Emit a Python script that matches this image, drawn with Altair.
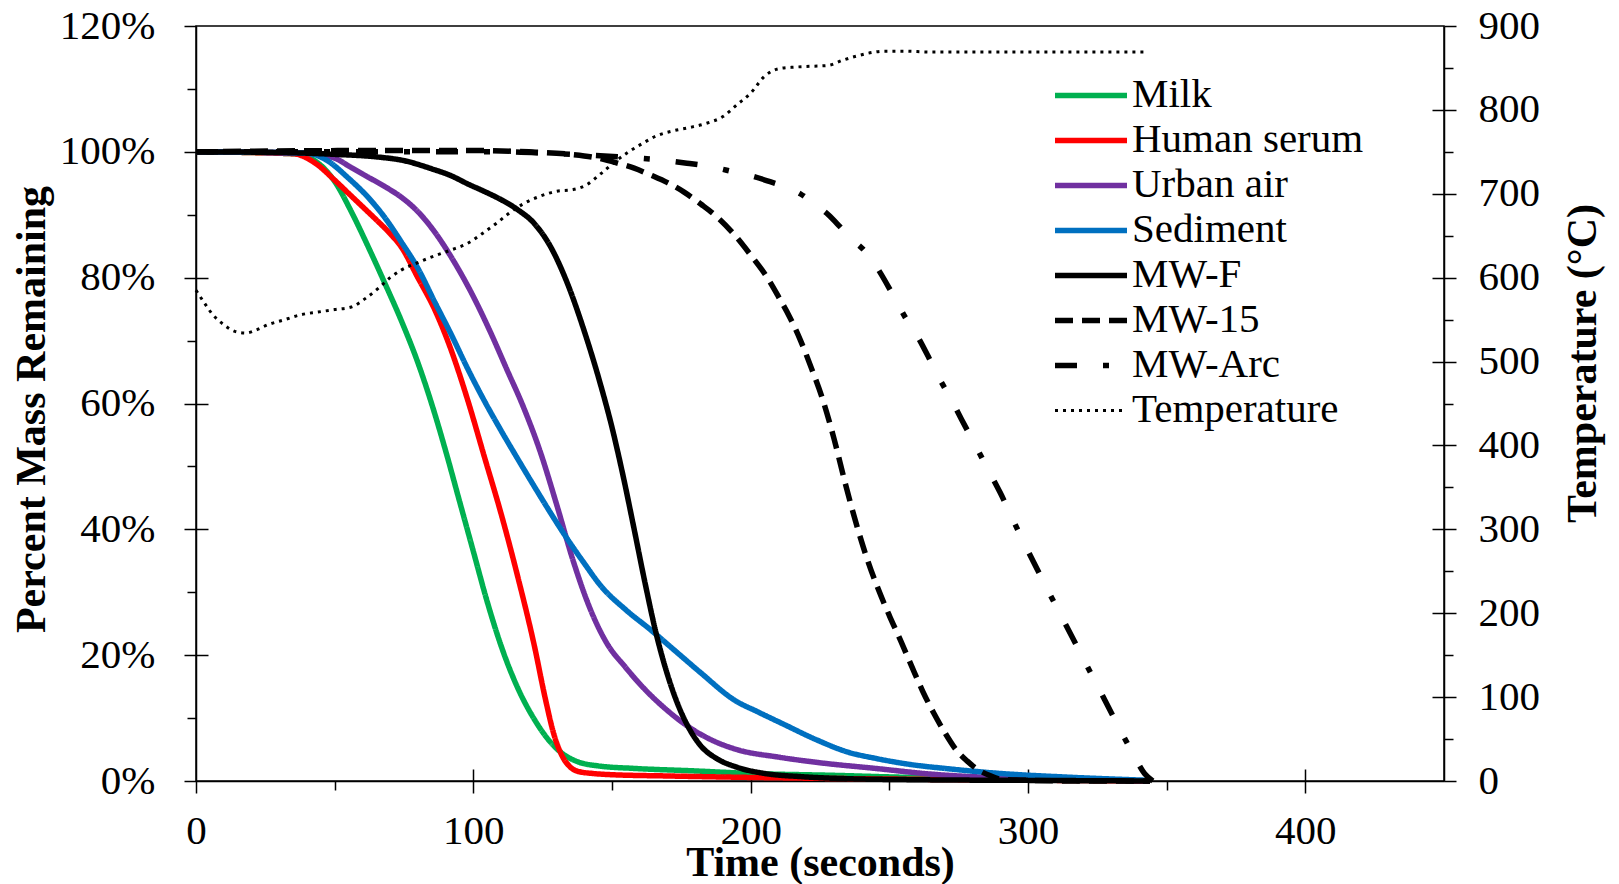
import altair as alt
import pandas as pd

SERIES = ["Milk", "Human serum", "Urban air", "Sediment", "MW-F", "MW-15", "MW-Arc", "Temperature"]
COLORS = ["#00B050", "#FF0000", "#7030A0", "#0070C0", "#000000", "#000000", "#000000", "#000000"]
DASHES = [[1, 0], [1, 0], [1, 0], [1, 0], [1, 0], [18, 9], [22, 26, 6, 26], [3, 5]]
WIDTHS = [5.5, 5.5, 5.5, 5.5, 5.5, 5.5, 5.5, 3]

milk_t = [0, 35, 42, 50, 56, 62, 68, 74, 80, 86, 90, 95, 100, 105, 110, 116, 122, 127, 132, 138, 145, 158, 180, 200, 230, 255, 290, 320, 344]
milk_p = [100, 99.7, 98.8, 95.3, 90.5, 85, 79.2, 73.2, 66.5, 58.5, 52.5, 44.5, 36.5, 28.5, 21.5, 14.8, 9.8, 6.6, 4.4, 3.0, 2.4, 2.0, 1.6, 1.2, 0.9, 0.6, 0.4, 0.2, 0.0]

serum_t = [0, 35, 43, 50, 55, 60, 65, 70, 74, 80, 86, 92, 98, 104, 110, 116, 122, 126, 129, 132, 135, 138, 143, 150, 170, 195, 230, 280, 344]
serum_p = [100, 99.7, 98.2, 95.5, 93.4, 91.3, 89.2, 87, 84.9, 80, 75, 68.5, 60.5, 51.5, 42.5, 32.5, 21.5, 13, 7.5, 4.0, 2.2, 1.5, 1.2, 1.0, 0.8, 0.6, 0.4, 0.2, 0.0]

urban_t = [0, 38, 45, 50, 56, 62, 68, 74, 80, 86, 92, 100, 106, 112, 118, 124, 130, 136, 142, 148, 155, 162, 170, 178, 186, 195, 210, 225, 245, 265, 290, 320, 344]
urban_p = [100, 99.8, 99.5, 99, 97.5, 96, 94.5, 92.8, 90.5, 87.3, 83.3, 77.0, 71.5, 65.5, 59.5, 52.5, 44, 35, 27.5, 22, 18, 14.5, 11.2, 8.5, 6.5, 5, 3.8, 2.9, 2.0, 1.1, 0.5, 0.2, 0.0]

sed_t = [0, 40, 47, 55, 62, 68, 74, 80, 86, 92, 98, 104, 110, 116, 122, 128, 134, 140, 146, 155, 164, 173, 182, 194, 203, 212, 224, 235, 245, 258, 270, 290, 315, 344]
sed_p = [100, 99.8, 98.7, 95.8, 92.8, 89.6, 85.7, 81.5, 76.2, 71, 65.5, 60.4, 55.7, 51.2, 46.8, 42.5, 38.4, 34.6, 31.0, 27.2, 24, 20.6, 17.2, 12.9, 10.9, 9.0, 6.5, 4.6, 3.6, 2.6, 2.0, 1.2, 0.6, 0.1]

mwf_t = [0, 30, 50, 65, 75, 85, 92, 98, 104, 110, 116, 122, 128, 134, 140, 146, 150, 154, 158, 162, 166, 170, 174, 178, 182, 188, 195, 205, 218, 232, 260, 300, 344]
mwf_p = [100, 99.9, 99.6, 99.2, 98.6, 97.3, 96.2, 94.9, 93.7, 92.4, 90.8, 88.6, 84.8, 79.0, 71.5, 62.8, 56.2, 48.5, 40.0, 31.3, 23.3, 16.9, 11.9, 8.2, 5.6, 3.5, 2.2, 1.2, 0.7, 0.4, 0.2, 0.1, 0.0]

mw15_t = [0, 60, 100, 120, 135, 145, 152, 158, 164, 170, 176, 182, 188, 194, 200, 206, 210, 214, 218, 222, 226, 230, 234, 238, 242, 246, 250, 254, 258, 262, 266, 270, 274, 278, 282, 286, 290, 300, 320, 344]
mw15_p = [100, 100.2, 100.2, 100, 99.6, 99, 98.2, 97.4, 96.3, 95.1, 93.6, 91.7, 89.6, 86.9, 83.6, 80, 77, 73.8, 70, 65.5, 60.6, 54.5, 47.5, 41, 35.3, 30.5, 26.3, 22.4, 18.3, 14.3, 10.8, 7.7, 5.0, 3.2, 1.8, 0.9, 0.3, 0.1, 0.0, 0.0]

arc_t = [0, 110, 130, 152, 165, 177, 186, 194, 200, 206, 212, 218, 223, 228, 232, 236, 241, 246, 251, 256, 260, 264, 268, 272, 276, 280, 285, 290, 296, 302, 308, 314, 320, 326, 332, 338, 342, 345]
arc_p = [100, 100, 99.7, 99.2, 98.8, 98.2, 97.6, 96.8, 96.2, 95.4, 94.5, 93.3, 91.7, 90, 88.2, 86.3, 84.3, 81.3, 77.5, 73.5, 70.8, 67.5, 64.0, 60.9, 57.5, 54.2, 50, 45.8, 40.2, 34.8, 29.6, 24.5, 19.4, 14.3, 9.2, 4.2, 1.2, 0.0]

temp_t = [0, 3, 6, 10, 14, 18, 22, 26, 32, 38, 44, 50, 56, 61, 66, 70, 74, 80, 86, 92, 98, 103, 108, 113, 118, 124, 130, 136, 141, 146, 151, 156, 161, 166, 172, 178, 184, 190, 195, 200, 205, 210, 216, 222, 228, 233, 238, 243, 248, 255, 265, 280, 300, 320, 343]
temp_v = [585, 570, 556, 544, 536, 534, 538, 544, 550, 556, 559, 562, 565, 575, 588, 600, 609, 618, 626, 633, 641, 652, 664, 677, 688, 697, 703, 705, 711, 724, 738, 750, 760, 769, 775, 779, 784, 792, 806, 820, 840, 849, 851, 852, 853, 859, 864, 868, 870, 870, 869, 869, 869, 869, 869]

X_MAJOR = [0, 100, 200, 300, 400]
X_MINOR = [50, 150, 250, 350]
Y_MAJOR = [0, 20, 40, 60, 80, 100, 120]
Y_MINOR = [10, 30, 50, 70, 90, 110]
T_MAJOR = [0, 100, 200, 300, 400, 500, 600, 700, 800, 900]
T_MINOR = [50, 150, 250, 350, 450, 550, 650, 750, 850]

W, H = 1248, 755

rows = []
for name, ts, ps in [("Milk", milk_t, milk_p), ("Human serum", serum_t, serum_p),
                     ("Urban air", urban_t, urban_p), ("Sediment", sed_t, sed_p),
                     ("MW-F", mwf_t, mwf_p), ("MW-15", mw15_t, mw15_p), ("MW-Arc", arc_t, arc_p)]:
    for t, p in zip(ts, ps):
        rows.append({"t": t, "pct": p, "series": name})
mass_df = pd.DataFrame(rows)
temp_df = pd.DataFrame({"t": temp_t, "temp": temp_v, "series": ["Temperature"] * len(temp_t)})

xs = alt.Scale(domain=[0, 450], nice=False, zero=False)
ys = alt.Scale(domain=[0, 120], nice=False)
ts_ = alt.Scale(domain=[0, 900], nice=False)

color = alt.Color("series:N", scale=alt.Scale(domain=SERIES, range=COLORS), title=None)
dash = alt.StrokeDash("series:N", scale=alt.Scale(domain=SERIES, range=DASHES), title=None)
width = alt.StrokeWidth("series:N", scale=alt.Scale(type="ordinal", domain=SERIES, range=WIDTHS), title=None)

x_major = alt.Axis(orient="bottom", values=X_MAJOR, tickSize=12, labelPadding=18, labelFlush=False,
                   title="Time (seconds)", titleY=94, titleBaseline="alphabetic", grid=False)
y_major = alt.Axis(orient="left", values=Y_MAJOR, tickSize=12, labelPadding=29,
                   labelExpr="datum.value + '%'", title="Percent Mass Remaining",
                   titleAngle=270, titleX=-152, titleY=383, titleBaseline="alphabetic", grid=False)
t_major = alt.Axis(orient="right", values=T_MAJOR, tickSize=12, labelPadding=22,
                   title="Temperature (°C)", titleAngle=270, titleX=151, titleY=337,
                   titleBaseline="alphabetic", grid=False)

x_minor = alt.Axis(orient="bottom", values=X_MINOR, tickSize=9, labels=False, domain=False, title=None, grid=False)
x_inward = alt.Axis(orient="top", offset=-H, values=X_MAJOR[1:], tickSize=12, labels=False, domain=False, title=None, grid=False)
y_minor = alt.Axis(orient="left", values=Y_MINOR, tickSize=9, labels=False, domain=False, title=None, grid=False)
y_inward = alt.Axis(orient="right", offset=-W, values=Y_MAJOR[1:-1], tickSize=12, labels=False, domain=False, title=None, grid=False)
t_minor = alt.Axis(orient="right", values=T_MINOR, tickSize=9, labels=False, domain=False, title=None, grid=False)
t_inward = alt.Axis(orient="left", offset=-W, values=T_MAJOR[1:-1], tickSize=12, labels=False, domain=False, title=None, grid=False)

mass = alt.Chart(mass_df).mark_line(interpolate="monotone", strokeCap="butt").encode(
    x=alt.X("t:Q", scale=xs, axis=x_major),
    y=alt.Y("pct:Q", scale=ys, axis=y_major),
    color=color, strokeDash=dash, strokeWidth=width,
)
temp = alt.Chart(temp_df).mark_line(interpolate="monotone", strokeCap="butt").encode(
    x=alt.X("t:Q", scale=xs, axis=None),
    y=alt.Y("temp:Q", scale=ts_, axis=t_major),
    color=color, strokeDash=dash, strokeWidth=width,
)
h1 = alt.Chart(mass_df).mark_line(opacity=0).encode(
    x=alt.X("t:Q", scale=xs, axis=x_minor), y=alt.Y("pct:Q", scale=ys, axis=y_minor))
h2 = alt.Chart(mass_df).mark_line(opacity=0).encode(
    x=alt.X("t:Q", scale=xs, axis=x_inward), y=alt.Y("pct:Q", scale=ys, axis=y_inward))
h3 = alt.Chart(temp_df).mark_line(opacity=0).encode(
    x=alt.X("t:Q", scale=xs, axis=None), y=alt.Y("temp:Q", scale=ts_, axis=t_minor))
h4 = alt.Chart(temp_df).mark_line(opacity=0).encode(
    x=alt.X("t:Q", scale=xs, axis=None), y=alt.Y("temp:Q", scale=ts_, axis=t_inward))

chart = alt.layer(mass, temp, h1, h2, h3, h4).resolve_scale(
    y="independent"
).resolve_axis(
    x="independent", y="independent"
).properties(
    width=W, height=H,
    autosize=alt.AutoSizeParams(type="none"),
    padding={"left": 196, "top": 26, "right": 175, "bottom": 103},
    background="white",
).configure(
    font="Liberation Serif",
).configure_view(
    stroke="black", strokeWidth=1.5,
).configure_axis(
    domainColor="black", domainWidth=1.5, tickColor="black", tickWidth=1.5,
    labelFont="Liberation Serif", labelFontSize=41, labelColor="black",
    titleFont="Liberation Serif", titleFontSize=42, titleFontWeight="bold", titleColor="black",
).configure_legend(
    orient="none", legendX=856, legendY=47, symbolType="stroke", symbolSize=5184,
    labelFont="Liberation Serif", labelFontSize=41, labelColor="black", labelOffset=2,
    rowPadding=0, clipHeight=44.8, padding=0, titlePadding=0, labelLimit=400,
)

chart.save("out.html", embed_options={"renderer": "svg", "actions": False})
